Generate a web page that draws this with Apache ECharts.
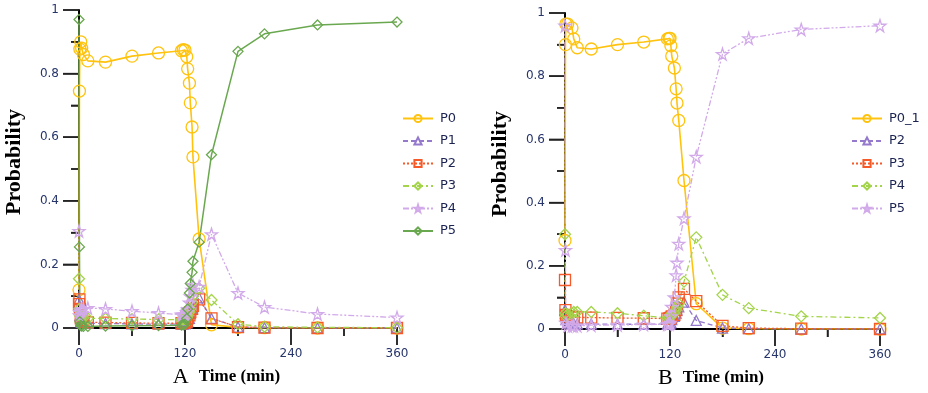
<!DOCTYPE html>
<html>
<head>
<meta charset="utf-8">
<script src="https://cdn.jsdelivr.net/npm/echarts@6/dist/echarts.min.js"></script>
<style>
  html, body { margin: 0; padding: 0; background: #fff; }
  .panel { float: left; width: 464px; height: 393px; }
</style>
</head>
<body>
<div class="panel" id="chartA"></div>
<div class="panel" id="chartB"></div>
<script>
// time points (min)
var timeA = [0, 0.5, 1, 2, 3, 5, 10, 30, 60, 90, 116, 118, 120, 122, 123, 125, 126, 128, 129, 136, 150, 180, 210, 270, 360];
var timeB = [0, 0.5, 1, 3, 8, 10, 14, 30, 60, 90, 117, 119, 120, 121, 122, 125, 127, 128, 130, 136, 150, 180, 210, 270, 360];

// panel A
var a_P0 = [0.12, 0.745, 0.877, 0.90, 0.88, 0.86, 0.84, 0.836, 0.855, 0.865, 0.872, 0.875, 0.874, 0.853, 0.815, 0.77, 0.708, 0.632, 0.538, 0.28, 0.01, 0.002, 0.001, 0, 0];
var a_P1 = [0.09, 0.07, 0.04, 0.02, 0.018, 0.016, 0.015, 0.014, 0.013, 0.012, 0.012, 0.012, 0.013, 0.016, 0.02, 0.03, 0.045, 0.06, 0.075, 0.095, 0.03, 0.003, 0.001, 0, 0];
var a_P2 = [0.075, 0.09, 0.06, 0.03, 0.025, 0.02, 0.018, 0.017, 0.016, 0.015, 0.015, 0.016, 0.017, 0.02, 0.03, 0.04, 0.05, 0.06, 0.07, 0.09, 0.03, 0.003, 0.001, 0, 0];
var a_P3 = [0.155, 0.06, 0.04, 0.035, 0.033, 0.032, 0.03, 0.03, 0.028, 0.027, 0.026, 0.027, 0.028, 0.032, 0.04, 0.05, 0.06, 0.08, 0.1, 0.125, 0.088, 0.012, 0.004, 0.002, 0.001];
var a_P4 = [0.305, 0.04, 0.05, 0.055, 0.058, 0.06, 0.063, 0.06, 0.053, 0.047, 0.042, 0.042, 0.043, 0.05, 0.06, 0.08, 0.1, 0.12, 0.135, 0.13, 0.295, 0.11, 0.066, 0.044, 0.033];
var a_P5 = [0.97, 0.255, 0.02, 0.008, 0.006, 0.005, 0.005, 0.006, 0.007, 0.008, 0.009, 0.01, 0.012, 0.03, 0.06, 0.11, 0.14, 0.175, 0.21, 0.27, 0.545, 0.87, 0.925, 0.953, 0.962];

// panel B
var b_P0_1 = [0.28, 0.90, 0.965, 0.965, 0.953, 0.918, 0.89, 0.886, 0.90, 0.908, 0.918, 0.92, 0.92, 0.896, 0.864, 0.826, 0.76, 0.715, 0.66, 0.47, 0.08, 0.003, 0.001, 0, 0];
var b_P2 = [0.06, 0.05, 0.03, 0.02, 0.018, 0.017, 0.016, 0.016, 0.015, 0.015, 0.015, 0.015, 0.016, 0.02, 0.03, 0.04, 0.05, 0.06, 0.07, 0.085, 0.027, 0.003, 0.001, 0, 0];
var b_P3 = [0.155, 0.06, 0.045, 0.04, 0.038, 0.038, 0.037, 0.036, 0.035, 0.034, 0.033, 0.033, 0.034, 0.036, 0.04, 0.045, 0.06, 0.08, 0.1, 0.127, 0.088, 0.01, 0.003, 0.001, 0];
var b_P4 = [0.30, 0.05, 0.04, 0.045, 0.05, 0.054, 0.054, 0.054, 0.05, 0.042, 0.035, 0.035, 0.036, 0.04, 0.045, 0.05, 0.06, 0.07, 0.08, 0.15, 0.29, 0.108, 0.066, 0.04, 0.035];
var b_P5 = [0.96, 0.25, 0.02, 0.01, 0.01, 0.01, 0.01, 0.012, 0.013, 0.014, 0.015, 0.016, 0.02, 0.04, 0.07, 0.1, 0.17, 0.21, 0.27, 0.35, 0.545, 0.87, 0.92, 0.948, 0.96];

// axis ticks
var xTicks = [0, 120, 240, 360];
var xMinor = [60, 180, 300];
var yTicks = [0, 0.2, 0.4, 0.6, 0.8, 1];
var yMinor = [0.1, 0.3, 0.5, 0.7, 0.9];

var STAR = 'path://M50,0 L61,35 L98,35 L68,57 L79,91 L50,70 L21,91 L32,57 L2,35 L39,35 Z';

// line looks: colour, dash, symbol, size, width
var looks = {
    yellow: ['#ffc30f', 'solid', 'circle', 12, 1.6],
    purple: ['#9479cc', [5, 3], 'triangle', 10, 1.3],
    red:    ['#f55a28', [2, 2], 'rect', 11, 1.3],
    lime:   ['#a3d44a', [6, 3, 2, 3], 'diamond', 11, 1.3],
    lilac:  ['#d2aaea', [6, 2, 2, 2, 2, 2], STAR, 12, 1.3],
    green:  ['#6aa84f', 'solid', 'diamond', 10, 1.5]
};

function mkSeries(name, times, vals, look) {
    var l = looks[look];
    return {
        name: name,
        type: 'line',
        data: times.map(function (t, i) { return [t, vals[i]]; }),
        symbol: l[2],
        symbolSize: l[3],
        lineStyle: { color: l[0], type: l[1], width: l[4] },
        itemStyle: { color: 'rgba(255,255,255,0)', borderColor: l[0], borderWidth: 1.3 },
        emphasis: { disabled: true },
        animation: false
    };
}

// axis lines + outward ticks, placed through the chart's own scales
function drawAxes(params, api) {
    var o = api.coord([0, 0]);
    var xe = api.coord([360, 0]);
    var ye = api.coord([0, 1]);
    var black = { stroke: '#000', lineWidth: 2 };
    var tick = { stroke: '#222', lineWidth: 1.5 };
    var kids = [
        { type: 'line', shape: { x1: o[0], y1: o[1], x2: xe[0], y2: xe[1] }, style: black },
        { type: 'line', shape: { x1: o[0], y1: o[1] + 1, x2: ye[0], y2: ye[1] }, style: black }
    ];
    xTicks.forEach(function (v) {
        var p = api.coord([v, 0]);
        kids.push({ type: 'line', shape: { x1: p[0], y1: p[1], x2: p[0], y2: p[1] + 17 }, style: tick });
    });
    xMinor.forEach(function (v) {
        var p = api.coord([v, 0]);
        kids.push({ type: 'line', shape: { x1: p[0], y1: p[1], x2: p[0], y2: p[1] + 8 }, style: tick });
    });
    yTicks.forEach(function (v) {
        var p = api.coord([0, v]);
        kids.push({ type: 'line', shape: { x1: p[0] - 16, y1: p[1], x2: p[0], y2: p[1] }, style: tick });
    });
    yMinor.forEach(function (v) {
        var p = api.coord([0, v]);
        kids.push({ type: 'line', shape: { x1: p[0] - 8, y1: p[1], x2: p[0], y2: p[1] }, style: tick });
    });
    return { type: 'group', children: kids };
}

function baseOption(letter, grid, legendLeft, names, series) {
    return {
        animation: false,
        grid: grid,
        legend: {
            orient: 'vertical',
            left: legendLeft,
            top: 112,
            padding: 0,
            itemWidth: 30,
            itemHeight: 9,
            itemGap: 9.5,
            data: names,
            textStyle: { fontFamily: 'DejaVu Sans', fontSize: 13, color: '#1c2452', padding: [0, 0, 0, 2] }
        },
        xAxis: {
            type: 'value',
            min: 0, max: 360, interval: 120,
            name: '{a|' + letter + '}   {b|Time (min)}',
            nameLocation: 'middle',
            nameGap: 38,
            nameTextStyle: {
                padding: [0, 23, 0, 0],
                rich: {
                    a: { fontFamily: 'Liberation Serif', fontSize: 22, color: '#000' },
                    b: { fontFamily: 'Liberation Serif', fontSize: 17, fontWeight: 'bold', color: '#000' }
                }
            },
            axisLine: { show: true, onZero: false, lineStyle: { color: '#000', width: 2 } },
            axisTick: { show: true, inside: false, length: 17, lineStyle: { color: '#222', width: 1.5 } },
            minorTick: { show: true, splitNumber: 2, length: 8, lineStyle: { color: '#222', width: 1.5 } },
            splitLine: { show: false },
            axisLabel: { margin: 20, fontFamily: 'DejaVu Sans', fontSize: 12, color: '#27356b' }
        },
        yAxis: {
            type: 'value',
            min: 0, max: 1, interval: 0.2,
            name: 'Probability',
            nameLocation: 'middle',
            nameRotate: 90,
            nameGap: 54,
            nameTextStyle: { fontFamily: 'Liberation Serif', fontSize: 22, fontWeight: 'bold', color: '#000', padding: [0, 0, 0, 14] },
            axisLine: { show: true, onZero: false, lineStyle: { color: '#000', width: 2 } },
            axisTick: { show: true, inside: false, length: 16, lineStyle: { color: '#222', width: 1.5 } },
            minorTick: { show: true, splitNumber: 2, length: 8, lineStyle: { color: '#222', width: 1.5 } },
            splitLine: { show: false },
            axisLabel: { margin: 20, fontFamily: 'DejaVu Sans', fontSize: 12, color: '#27356b' }
        },
        series: [{
            type: 'custom',
            silent: true,
            clip: false,
            data: [[0, 0]],
            renderItem: drawAxes,
            animation: false
        }].concat(series)
    };
}

var chartA = echarts.init(document.getElementById('chartA'));
chartA.setOption(baseOption('A',
    { left: 79, right: 67, top: 10, bottom: 65, outerBoundsMode: 'none' },
    402,
    ['P0', 'P1', 'P2', 'P3', 'P4', 'P5'],
    [
        mkSeries('P0', timeA, a_P0, 'yellow'),
        mkSeries('P1', timeA, a_P1, 'purple'),
        mkSeries('P2', timeA, a_P2, 'red'),
        mkSeries('P3', timeA, a_P3, 'lime'),
        mkSeries('P4', timeA, a_P4, 'lilac'),
        mkSeries('P5', timeA, a_P5, 'green')
    ]));

var chartB = echarts.init(document.getElementById('chartB'));
chartB.setOption(baseOption('B',
    { left: 101, right: 48, top: 13, bottom: 64, outerBoundsMode: 'none' },
    387,
    ['P0_1', 'P2', 'P3', 'P4', 'P5'],
    [
        mkSeries('P0_1', timeB, b_P0_1, 'yellow'),
        mkSeries('P2', timeB, b_P2, 'purple'),
        mkSeries('P3', timeB, b_P3, 'red'),
        mkSeries('P4', timeB, b_P4, 'lime'),
        mkSeries('P5', timeB, b_P5, 'lilac')
    ]));
</script>
</body>
</html>
